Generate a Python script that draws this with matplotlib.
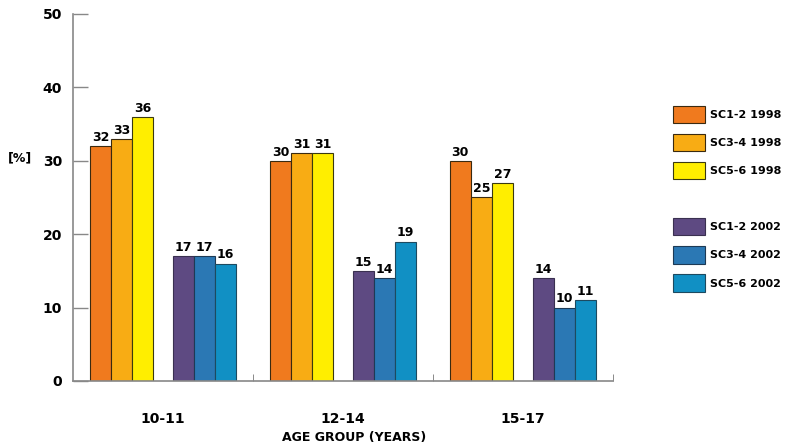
import matplotlib
matplotlib.use("Agg")
import matplotlib.pyplot as plt
from matplotlib.patches import Patch
import numpy as np

# data
groups = ["10-11", "12-14", "15-17"]
series = ["SC1-2 1998", "SC3-4 1998", "SC5-6 1998",
          "SC1-2 2002", "SC3-4 2002", "SC5-6 2002"]
sc12_1998 = [32, 30, 30]
sc34_1998 = [33, 31, 25]
sc56_1998 = [36, 31, 27]
sc12_2002 = [17, 15, 14]
sc34_2002 = [17, 14, 10]
sc56_2002 = [16, 19, 11]
values = [sc12_1998, sc34_1998, sc56_1998, sc12_2002, sc34_2002, sc56_2002]
colors = ["#F07A1E", "#F8AC14", "#FFEE00", "#5E4A82", "#2B78B4", "#1190C4"]
edges = ["#3a2a10", "#3a2a10", "#3a3a10", "#3a3050", "#1d3a55", "#1d4a60"]
offsets = [-0.347, -0.23, -0.113, 0.113, 0.23, 0.347]
bar_w = 0.117

plt.rcParams['font.family'] = ['DejaVu Sans Condensed', 'DejaVu Sans']
plt.rcParams['font.weight'] = 'bold'

fig = plt.figure(figsize=(7.96, 4.47), dpi=100)
ax = fig.add_axes([0.0917, 0.1477, 0.678, 0.821])

x = np.arange(len(groups)) + 0.5
for vals, col, ec, off in zip(values, colors, edges, offsets):
    bars = ax.bar(x + off, vals, width=bar_w, color=col, edgecolor=ec, linewidth=0.8)
    for b, v in zip(bars, vals):
        ax.text(b.get_x() + b.get_width() / 2, v + 0.3, str(v), ha="center", va="bottom",
                fontsize=9, fontweight="bold")

ax.set_xlim(0, 3)
ax.set_ylim(0, 50)
ax.set_yticks([0, 10, 20, 30, 40, 50])
ax.tick_params(axis="y", direction="in", length=11, width=1, color="#888888",
               labelsize=10, pad=8)
ax.set_xticks(x)
ax.set_xticklabels(groups)
ax.tick_params(axis="x", length=0, labelsize=10, pad=22)
ax.set_xticks([1, 2, 3], minor=True)
ax.tick_params(axis="x", which="minor", direction="in", length=5, color="#777777")

for s in ["top", "right"]:
    ax.spines[s].set_visible(False)
for s in ["left", "bottom"]:
    ax.spines[s].set_color("#888888")
    ax.spines[s].set_linewidth(1.2)

ax.set_ylabel("[%]", rotation=0, fontsize=9, fontweight="bold")
ax.yaxis.set_label_coords(-0.098, 0.59)
ax.set_xlabel("AGE GROUP (YEARS)", fontsize=9, fontweight="bold")
ax.xaxis.set_label_coords(0.52, -0.135)

handles = [Patch(facecolor=c, edgecolor=e, linewidth=0.8) for c, e in zip(colors, edges)]
handles.insert(3, Patch(facecolor="none", edgecolor="none"))
labels = series[:3] + [""] + series[3:]
fig.legend(handles, labels, loc="upper left", bbox_to_anchor=(0.833, 0.785),
           frameon=False, fontsize=8, handlelength=2.9, handleheight=2.0,
           handletextpad=0.4, labelspacing=0.98)

fig.savefig("out.png", dpi=100)
